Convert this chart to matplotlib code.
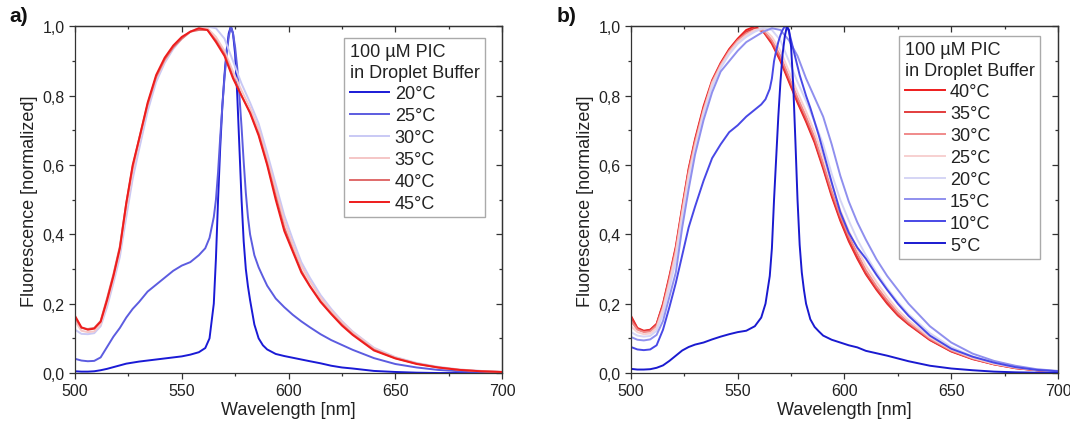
import numpy as np
import matplotlib
matplotlib.use("Agg")
import matplotlib.pyplot as plt
from matplotlib.ticker import MultipleLocator, FuncFormatter

plt.rcParams["font.family"] = ["Liberation Sans", "DejaVu Sans"]

# wavelength grids [nm]
wl_broad = [500, 503, 506, 509, 512, 515, 518, 521, 524, 527, 530, 534, 538, 542, 546,
            550, 554, 558, 562, 566, 570, 574, 578, 582, 586, 590, 594, 598, 602, 606,
            610, 615, 620, 625, 630, 640, 650, 660, 670, 680, 690, 700]
wl_peak = [500, 503, 506, 509, 512, 515, 518, 521, 524, 527, 530, 534, 538, 542, 546,
           550, 554, 558, 561, 563, 565, 566, 567, 568, 569, 570, 571, 572, 573, 574,
           575, 576, 577, 578, 579, 580, 581, 582, 584, 586, 588, 590, 594, 598, 602,
           606, 610, 615, 620, 625, 630, 640, 650, 660, 670, 680, 690, 700]

# panel a) heating series
a_20 = [0.005, 0.004, 0.004, 0.005, 0.008, 0.012, 0.017, 0.022, 0.027, 0.030, 0.033, 0.036,
        0.039, 0.042, 0.045, 0.048, 0.053, 0.060, 0.072, 0.100, 0.200, 0.330, 0.500, 0.650,
        0.770, 0.860, 0.930, 0.980, 1.000, 0.980, 0.920, 0.800, 0.650, 0.500, 0.380, 0.300,
        0.250, 0.210, 0.140, 0.100, 0.080, 0.068, 0.055, 0.049, 0.044, 0.039, 0.034, 0.028,
        0.021, 0.016, 0.013, 0.006, 0.003, 0.001, 0.0, 0.0, 0.0, 0.0]
a_25 = [0.041, 0.036, 0.034, 0.035, 0.045, 0.075, 0.105, 0.130, 0.160, 0.185, 0.205, 0.235,
        0.255, 0.275, 0.295, 0.310, 0.320, 0.340, 0.360, 0.390, 0.450, 0.500, 0.580, 0.680,
        0.770, 0.850, 0.920, 0.970, 1.000, 0.980, 0.940, 0.880, 0.800, 0.710, 0.610, 0.520,
        0.450, 0.400, 0.340, 0.305, 0.278, 0.252, 0.215, 0.190, 0.168, 0.149, 0.132, 0.112,
        0.095, 0.081, 0.067, 0.043, 0.026, 0.016, 0.009, 0.005, 0.003, 0.001]
a_30 = [0.125, 0.113, 0.112, 0.115, 0.135, 0.19, 0.26, 0.335, 0.45, 0.56, 0.645, 0.755,
        0.84, 0.895, 0.935, 0.965, 0.985, 0.995, 1.0, 0.995, 0.965, 0.9, 0.835, 0.78, 0.72,
        0.635, 0.545, 0.455, 0.385, 0.32, 0.275, 0.225, 0.185, 0.15, 0.12, 0.073, 0.046,
        0.029, 0.018, 0.01, 0.006, 0.003]
a_35 = [0.15, 0.122, 0.118, 0.12, 0.14, 0.2, 0.27, 0.35, 0.47, 0.58, 0.665, 0.77, 0.85,
        0.9, 0.94, 0.965, 0.985, 0.995, 0.995, 0.97, 0.93, 0.87, 0.815, 0.765, 0.705, 0.62,
        0.53, 0.44, 0.37, 0.31, 0.265, 0.218, 0.18, 0.147, 0.118, 0.071, 0.045, 0.028,
        0.017, 0.01, 0.006, 0.003]
a_40 = [0.16, 0.13, 0.127, 0.13, 0.15, 0.215, 0.285, 0.365, 0.49, 0.595, 0.675, 0.775,
        0.855, 0.905, 0.94, 0.965, 0.985, 0.99, 0.99, 0.96, 0.92, 0.855, 0.8, 0.752, 0.69,
        0.605, 0.51, 0.42, 0.355, 0.295, 0.252, 0.208, 0.172, 0.14, 0.112, 0.067, 0.043,
        0.027, 0.016, 0.009, 0.005, 0.003]
a_45 = [0.165, 0.132, 0.125, 0.128, 0.148, 0.21, 0.28, 0.36, 0.49, 0.6, 0.675, 0.78, 0.86,
        0.91, 0.945, 0.97, 0.985, 0.995, 0.99, 0.955, 0.915, 0.85, 0.8, 0.75, 0.685, 0.6,
        0.5, 0.41, 0.35, 0.29, 0.25, 0.205, 0.17, 0.137, 0.11, 0.065, 0.042, 0.026, 0.016,
        0.009, 0.005, 0.003]

# panel b) cooling series
b_40 = [0.165, 0.13, 0.122, 0.125, 0.142, 0.2, 0.28, 0.365, 0.48, 0.59, 0.675, 0.77, 0.845,
        0.895, 0.935, 0.965, 0.99, 1.0, 0.985, 0.95, 0.9, 0.84, 0.78, 0.725, 0.665, 0.59,
        0.51, 0.44, 0.38, 0.33, 0.285, 0.24, 0.2, 0.166, 0.14, 0.095, 0.062, 0.04, 0.025,
        0.014, 0.008, 0.004]
b_35 = [0.16, 0.128, 0.12, 0.124, 0.14, 0.198, 0.275, 0.36, 0.475, 0.585, 0.67, 0.765, 0.84,
        0.89, 0.93, 0.96, 0.985, 0.995, 0.985, 0.955, 0.905, 0.845, 0.785, 0.73, 0.67,
        0.595, 0.515, 0.445, 0.385, 0.335, 0.288, 0.243, 0.203, 0.168, 0.142, 0.096, 0.063,
        0.041, 0.025, 0.014, 0.008, 0.004]
b_30 = [0.15, 0.125, 0.118, 0.12, 0.136, 0.19, 0.27, 0.355, 0.47, 0.58, 0.665, 0.76, 0.84,
        0.89, 0.93, 0.96, 0.98, 0.99, 0.99, 0.96, 0.915, 0.855, 0.795, 0.74, 0.68, 0.605,
        0.525, 0.455, 0.395, 0.345, 0.297, 0.25, 0.21, 0.174, 0.146, 0.099, 0.065, 0.042,
        0.026, 0.015, 0.008, 0.004]
b_25 = [0.135, 0.118, 0.112, 0.114, 0.13, 0.185, 0.26, 0.345, 0.46, 0.57, 0.655, 0.755,
        0.835, 0.885, 0.925, 0.955, 0.975, 0.99, 0.995, 0.97, 0.93, 0.87, 0.81, 0.755, 0.695,
        0.625, 0.545, 0.47, 0.41, 0.358, 0.31, 0.262, 0.22, 0.182, 0.152, 0.103, 0.068,
        0.044, 0.027, 0.016, 0.009, 0.005]
b_20 = [0.118, 0.108, 0.105, 0.107, 0.122, 0.17, 0.245, 0.325, 0.44, 0.55, 0.64, 0.745,
        0.825, 0.88, 0.92, 0.95, 0.97, 0.985, 0.995, 0.99, 0.96, 0.9, 0.84, 0.785, 0.725,
        0.66, 0.575, 0.5, 0.44, 0.385, 0.34, 0.29, 0.245, 0.205, 0.17, 0.115, 0.075, 0.048,
        0.03, 0.018, 0.01, 0.005]
b_15 = [0.104, 0.096, 0.094, 0.097, 0.11, 0.15, 0.22, 0.29, 0.42, 0.53, 0.63, 0.73, 0.81,
        0.87, 0.9, 0.93, 0.955, 0.97, 0.985, 0.995, 0.99, 0.96, 0.915, 0.85, 0.795, 0.74,
        0.66, 0.57, 0.495, 0.435, 0.385, 0.328, 0.28, 0.24, 0.2, 0.135, 0.088, 0.056, 0.035,
        0.021, 0.011, 0.006]
b_10 = [0.075, 0.068, 0.066, 0.068, 0.080, 0.125, 0.190, 0.260, 0.340, 0.420, 0.480, 0.555,
        0.620, 0.660, 0.695, 0.715, 0.740, 0.760, 0.775, 0.790, 0.820, 0.850, 0.900, 0.930,
        0.955, 0.975, 0.990, 1.000, 1.000, 0.985, 0.960, 0.935, 0.910, 0.885, 0.860, 0.840,
        0.820, 0.800, 0.765, 0.725, 0.685, 0.640, 0.550, 0.465, 0.405, 0.362, 0.330, 0.283,
        0.240, 0.200, 0.165, 0.108, 0.070, 0.047, 0.030, 0.017, 0.009, 0.005]
b_5 = [0.012, 0.010, 0.010, 0.011, 0.015, 0.022, 0.035, 0.050, 0.065, 0.075, 0.082, 0.088,
       0.097, 0.105, 0.112, 0.118, 0.122, 0.135, 0.160, 0.200, 0.280, 0.360, 0.500, 0.620,
       0.740, 0.840, 0.920, 0.970, 1.000, 0.990, 0.940, 0.830, 0.670, 0.500, 0.370, 0.290,
       0.240, 0.200, 0.155, 0.133, 0.120, 0.108, 0.096, 0.088, 0.080, 0.074, 0.064, 0.057,
       0.050, 0.042, 0.034, 0.021, 0.013, 0.008, 0.004, 0.002, 0.001, 0.0]

series_a = [("20°C", wl_peak, a_20, "#1a1ad6"),
            ("25°C", wl_peak, a_25, "#5c5ce0"),
            ("30°C", wl_broad, a_30, "#c9c9f5"),
            ("35°C", wl_broad, a_35, "#f5c6c6"),
            ("40°C", wl_broad, a_40, "#e06a6a"),
            ("45°C", wl_broad, a_45, "#ee1c1c")]
series_b = [("40°C", wl_broad, b_40, "#ee1c1c"),
            ("35°C", wl_broad, b_35, "#e33d3d"),
            ("30°C", wl_broad, b_30, "#f08a8a"),
            ("25°C", wl_broad, b_25, "#f7d0d0"),
            ("20°C", wl_broad, b_20, "#d5d5f5"),
            ("15°C", wl_broad, b_15, "#8f8fee"),
            ("10°C", wl_peak, b_10, "#4848e6"),
            ("5°C", wl_peak, b_5, "#1a1ad0")]

legend_title = "100 µM PIC\nin Droplet Buffer"
text_col = "#222222"
spine_col = "#333333"


def comma(v, pos):
    return f"{v:.1f}".replace(".", ",")


def style_axes(ax):
    ax.set_xlim(500, 700)
    ax.set_ylim(0, 1)
    ax.xaxis.set_major_locator(MultipleLocator(50))
    ax.xaxis.set_minor_locator(MultipleLocator(25))
    ax.yaxis.set_major_locator(MultipleLocator(0.2))
    ax.yaxis.set_minor_locator(MultipleLocator(0.1))
    ax.yaxis.set_major_formatter(FuncFormatter(comma))
    ax.tick_params(which="both", direction="out", colors=spine_col,
                   labelcolor=text_col, labelsize=11.5, width=0.9)
    ax.tick_params(which="major", length=4.5, pad=3)
    ax.tick_params(which="minor", length=2.5)
    for s in ax.spines.values():
        s.set_color(spine_col)
        s.set_linewidth(0.9)
    # inward ticks on the mirrored sides
    top = ax.secondary_xaxis("top")
    top.xaxis.set_major_locator(MultipleLocator(50))
    top.xaxis.set_minor_locator(MultipleLocator(25))
    top.tick_params(which="both", direction="in", labeltop=False,
                    colors=spine_col, width=0.9)
    top.tick_params(which="major", length=4.5)
    top.tick_params(which="minor", length=2.5)
    right = ax.secondary_yaxis("right")
    right.yaxis.set_major_locator(MultipleLocator(0.2))
    right.yaxis.set_minor_locator(MultipleLocator(0.1))
    right.tick_params(which="both", direction="in", labelright=False,
                      colors=spine_col, width=0.9)
    right.tick_params(which="major", length=4.5)
    right.tick_params(which="minor", length=2.5)
    for sec in (top, right):
        for s in sec.spines.values():
            s.set_color(spine_col)
            s.set_linewidth(0.9)
    ax.set_xlabel("Wavelength [nm]", fontsize=13, color=text_col, labelpad=2)
    ax.set_ylabel("Fluorescence [normalized]", fontsize=13, color=text_col, labelpad=3)


fig = plt.figure(figsize=(10.7, 4.27), dpi=100)
ax_a = fig.add_axes([0.0701, 0.1241, 0.3991, 0.8115])
ax_b = fig.add_axes([0.5897, 0.1241, 0.3991, 0.8115])

for ax, series, anchor in ((ax_a, series_a, (0.960, 0.967)),
                           (ax_b, series_b, (0.958, 0.973))):
    for label, wl, vals, col in series:
        ax.plot(wl, vals, color=col, lw=1.4, label=label)
    style_axes(ax)
    leg = ax.legend(title=legend_title, loc="upper right", bbox_to_anchor=anchor,
                    borderaxespad=0, fontsize=13, title_fontsize=13,
                    alignment="left", frameon=True, fancybox=False,
                    handlelength=2.2, handletextpad=0.3, labelspacing=0.27,
                    borderpad=0.3, edgecolor="#aaaaaa", framealpha=1)
    leg.get_frame().set_linewidth(1.0)
    leg.get_title().set_color(text_col)
    leg.get_title().set_linespacing(1.25)
    for t in leg.get_texts():
        t.set_color(text_col)

fig.text(19 / 1070, 1 - 17 / 427, "a)", fontsize=15, fontweight="bold",
         ha="center", va="center", color="#111111")
fig.text(567 / 1070, 1 - 17 / 427, "b)", fontsize=15, fontweight="bold",
         ha="center", va="center", color="#111111")

fig.savefig("out.png", dpi=100)
